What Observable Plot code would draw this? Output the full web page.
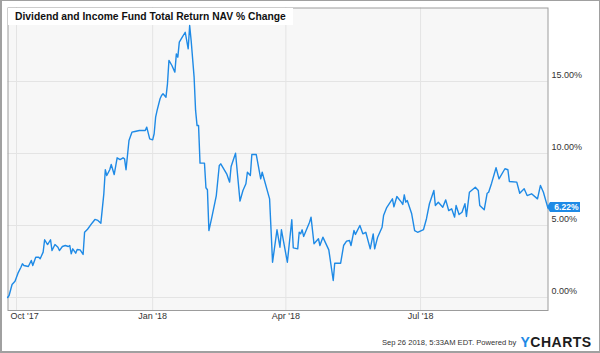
<!DOCTYPE html>
<html><head><meta charset="utf-8">
<script src="https://cdn.jsdelivr.net/npm/d3@7"></script>
<script src="https://cdn.jsdelivr.net/npm/@observablehq/plot@0.6"></script>
<style>
html,body{margin:0;padding:0;background:#fff;}
#wrap{position:relative;width:600px;height:353px;overflow:hidden;font-family:"Liberation Sans",Arial,Helvetica,sans-serif;background:#fff;}
#wrap svg{position:absolute;left:0;top:0;}
.abs{position:absolute;white-space:nowrap;line-height:1;}
#titlebox{position:absolute;left:8px;top:8px;width:285px;height:17px;background:#fff;}
#border{position:absolute;left:0;top:0;width:600px;height:353px;box-sizing:border-box;border:1px solid #a0a0a0;border-left-width:2px;border-bottom-width:2px;pointer-events:none;}
#lastlabel{position:absolute;height:10px;background:#1e8ae6;color:#fff;font-weight:bold;font-size:8.5px;line-height:10px;padding:0 2px 0 4px;}
#lastlabel:before{content:"";position:absolute;left:-3px;top:0;border-right:3px solid #1e8ae6;border-top:5px solid transparent;border-bottom:5px solid transparent;}
</style></head><body><div id="wrap"></div>
<script>
const dates = ["2017-09-25","2017-09-26","2017-09-28","2017-09-30","2017-10-02","2017-10-04","2017-10-05","2017-10-06","2017-10-09","2017-10-11",
"2017-10-12","2017-10-14","2017-10-16","2017-10-17","2017-10-19","2017-10-20","2017-10-22","2017-10-24","2017-10-25","2017-10-27",
"2017-10-29","2017-10-30","2017-11-01","2017-11-03","2017-11-05","2017-11-06","2017-11-07","2017-11-08","2017-11-10","2017-11-11",
"2017-11-13","2017-11-15","2017-11-16","2017-11-18","2017-11-21","2017-11-23","2017-11-25","2017-11-27","2017-11-29","2017-11-30",
"2017-12-01","2017-12-03","2017-12-04","2017-12-06","2017-12-08","2017-12-10","2017-12-12","2017-12-13","2017-12-14","2017-12-16",
"2017-12-18","2017-12-20","2017-12-23","2017-12-25","2017-12-27","2017-12-28","2017-12-30","2018-01-01","2018-01-02","2018-01-03",
"2018-01-04","2018-01-06","2018-01-07","2018-01-08","2018-01-10","2018-01-11","2018-01-12","2018-01-14","2018-01-16","2018-01-17",
"2018-01-18","2018-01-19","2018-01-21","2018-01-23","2018-01-25","2018-01-26","2018-01-27","2018-01-29","2018-01-30","2018-01-31",
"2018-02-01","2018-02-02","2018-02-05","2018-02-06","2018-02-07","2018-02-08","2018-02-10","2018-02-13","2018-02-15","2018-02-16",
"2018-02-20","2018-02-22","2018-02-23","2018-02-26","2018-03-01","2018-03-03","2018-03-05","2018-03-06","2018-03-08","2018-03-09",
"2018-03-12","2018-03-15","2018-03-16","2018-03-21","2018-03-23","2018-03-26","2018-03-28","2018-03-29","2018-04-02","2018-04-05",
"2018-04-06","2018-04-09","2018-04-10","2018-04-11","2018-04-12","2018-04-13","2018-04-17","2018-04-18","2018-04-20","2018-04-23",
"2018-04-24","2018-04-26","2018-04-30","2018-05-03","2018-05-04","2018-05-08","2018-05-10","2018-05-12","2018-05-14","2018-05-15",
"2018-05-17","2018-05-18","2018-05-21","2018-05-23","2018-05-25","2018-05-28","2018-05-30","2018-05-31","2018-06-02","2018-06-05",
"2018-06-06","2018-06-08","2018-06-12","2018-06-13","2018-06-15","2018-06-18","2018-06-19","2018-06-20","2018-06-21","2018-06-22",
"2018-06-25","2018-06-27","2018-06-29","2018-07-03","2018-07-05","2018-07-07","2018-07-10","2018-07-11","2018-07-13","2018-07-16",
"2018-07-18","2018-07-20","2018-07-22","2018-07-24","2018-07-25","2018-07-27","2018-07-29","2018-07-31","2018-08-01","2018-08-03",
"2018-08-07","2018-08-09","2018-08-10","2018-08-13","2018-08-15","2018-08-16","2018-08-18","2018-08-21","2018-08-23","2018-08-27",
"2018-08-29","2018-08-30","2018-09-04","2018-09-06","2018-09-09","2018-09-11","2018-09-14","2018-09-18","2018-09-20","2018-09-22",
"2018-09-25"];
const values = [0.00,0.14,0.90,1.13,1.69,2.10,2.34,2.22,2.15,2.57,
2.22,2.80,2.80,2.69,3.15,4.01,3.68,4.01,3.26,3.68,
3.49,3.26,3.54,3.61,3.54,3.61,3.03,3.38,3.08,3.33,
3.31,2.99,4.53,4.74,5.16,5.42,5.35,5.16,7.20,8.87,
8.47,8.87,9.24,8.54,9.70,9.58,9.70,9.63,8.87,10.90,
11.48,11.53,11.60,11.60,11.60,11.83,11.02,10.95,11.37,12.52,
12.99,13.80,14.03,14.15,13.91,14.84,16.46,16.11,15.65,16.92,
16.69,17.73,18.08,18.42,17.27,18.89,17.85,15.30,12.99,11.94,
11.94,9.33,9.33,7.62,7.48,4.65,5.58,7.08,9.17,9.28,
8.59,8.01,9.10,10.02,6.69,7.43,7.90,8.70,8.47,9.93,
9.93,8.24,8.70,6.85,2.45,4.70,3.49,4.70,2.45,5.40,
3.45,3.38,4.53,4.42,4.70,4.24,5.23,5.58,3.73,4.08,
3.61,4.19,3.31,1.18,2.38,2.38,3.61,3.91,3.96,3.61,
4.65,4.38,5.00,4.42,4.53,3.38,4.42,3.38,4.19,4.88,
5.69,6.22,6.85,6.30,7.01,6.62,6.46,7.13,6.62,6.74,
5.81,4.65,4.53,4.72,5.47,6.51,7.43,6.39,6.62,6.27,
6.78,6.04,6.16,5.58,6.39,5.76,5.92,6.51,5.63,7.31,
7.66,7.43,6.39,6.09,7.24,7.31,7.94,9.01,8.24,8.94,
8.87,8.06,8.01,7.24,7.55,7.08,7.20,6.85,7.78,7.31,
6.22];
const yTicks = [0, 5, 10, 15];
const xTicks = ["2017-10-01", "2018-01-01", "2018-04-01", "2018-07-01"];
const xTickLabels = ["Oct '17", "Jan '18", "Apr '18", "Jul '18"];
const xDomain = ["2017-09-25T06:14:00Z", "2018-09-25T02:24:00Z"];
const yDomain = [-0.903, 20.104];
const titleText = "Dividend and Income Fund Total Return NAV % Change";
const footerText = "Sep 26 2018, 5:33AM EDT.  Powered by";
const brandY = "Y";
const brandRest = "CHARTS";

const toDate = s => new Date(s.length === 10 ? s + "T00:00:00Z" : s);
const data = dates.map((d, i) => ({date: toDate(d), value: values[i]}));
const tickDates = xTicks.map(toDate);
const blue = "#1e8ae6";
const font = "'Liberation Sans', Arial, Helvetica, sans-serif";

const p = Plot.plot({
  width: 600, height: 353,
  marginLeft: 7.5, marginRight: 52.5, marginTop: 7.5, marginBottom: 43,
  x: {type: "utc", domain: xDomain.map(toDate), axis: null},
  y: {domain: yDomain, axis: null},
  style: {fontFamily: font, background: "transparent", overflow: "visible"},
  marks: [
    Plot.frame({fill: "#f7f7f7", stroke: "none"}),
    Plot.ruleY(yTicks, {stroke: "#e4e4e4", strokeWidth: 1}),
    Plot.ruleX(tickDates, {stroke: "#e4e4e4", strokeWidth: 1}),
    Plot.frame({stroke: "#9c9c9c", strokeWidth: 1}),
    Plot.text(yTicks, {y: d => d, frameAnchor: "right", textAnchor: "start", dx: 3.5, dy: -6.5,
      text: d => d.toFixed(2) + "%", fontSize: 9, fill: "#333"}),
    Plot.text(tickDates.slice(1), {x: d => d, frameAnchor: "bottom", dy: 8.5,
      text: (d, i) => xTickLabels[i + 1], fontSize: 9, fill: "#333"}),
    Plot.text(tickDates.slice(0, 1), {x: d => d, frameAnchor: "bottom", dy: 8.5, dx: -6, textAnchor: "start",
      text: (d, i) => xTickLabels[i], fontSize: 9, fill: "#333"})
  ]
});

const wrap = document.getElementById("wrap");
wrap.appendChild(p);

// title box (under the data line), then the line on top
const tb = document.createElement("div"); tb.id = "titlebox"; wrap.appendChild(tb);
const t = document.createElement("div"); t.className = "abs";
t.style.cssText = "left:15px;top:11.8px;font-size:10.3px;font-weight:bold;color:#111;";
t.textContent = titleText; wrap.appendChild(t);

const p2 = Plot.plot({
  width: 600, height: 353,
  marginLeft: 7.5, marginRight: 52.5, marginTop: 7.5, marginBottom: 43,
  x: {type: "utc", domain: xDomain.map(toDate), axis: null},
  y: {domain: yDomain, axis: null},
  style: {background: "transparent", overflow: "visible"},
  marks: [
    Plot.line(data, {x: "date", y: "value", stroke: blue, strokeWidth: 1.4, strokeLinejoin: "round"})
  ]
});
wrap.appendChild(p2);

// last value label, positioned with the plot's scales
const last = data[data.length - 1];
const lx = p2.scale("x").apply(last.date);
const ly = p2.scale("y").apply(last.value);
const lab = document.createElement("div"); lab.id = "lastlabel";
lab.textContent = last.value.toFixed(2) + "%";
lab.style.left = (lx + 3) + "px"; lab.style.top = (ly - 5) + "px";
wrap.appendChild(lab);

// footer
const f = document.createElement("div"); f.className = "abs";
f.style.cssText = "left:382px;top:339.2px;font-size:7.6px;color:#333;";
f.textContent = footerText; wrap.appendChild(f);
const b = document.createElement("div"); b.className = "abs";
b.style.cssText = "left:520.5px;top:334.9px;font-size:14px;font-weight:bold;letter-spacing:0.5px;color:#1c1c1c;";
const by = document.createElement("span"); by.style.color = blue; by.textContent = brandY;
b.appendChild(by); b.appendChild(document.createTextNode(brandRest)); wrap.appendChild(b);

const bd = document.createElement("div"); bd.id = "border"; wrap.appendChild(bd);
</script></body></html>
